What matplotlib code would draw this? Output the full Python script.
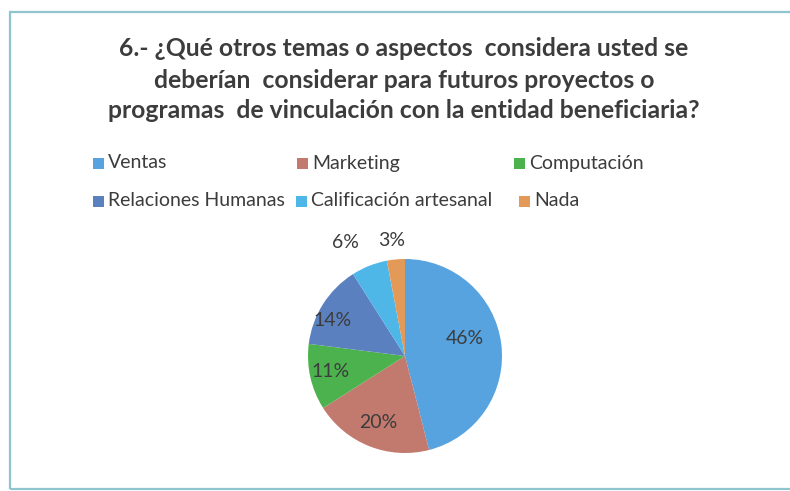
import matplotlib
matplotlib.use("Agg")
import matplotlib.pyplot as plt
from matplotlib.patches import Rectangle
import numpy as np

# Survey answers (share of respondents, %)
categories = ["Ventas", "Marketing", "Computación",
              "Relaciones Humanas", "Calificación artesanal", "Nada"]
shares = [46, 20, 11, 14, 6, 3]
colors = ["#56a3e0", "#c27a6e", "#4cb24e", "#5b80c0", "#4fb6e8", "#e39a58"]

title_lines = [
    "6.- ¿Qué otros temas o aspectos  considera usted se",
    "deberían  considerar para futuros proyectos o",
    "programas  de vinculación con la entidad beneficiaria?",
]

W, H = 790, 491
fig = plt.figure(figsize=(W / 100, H / 100), dpi=100)
fig.patch.set_facecolor("white")

text_color = "#3c3c3c"
font = "Lato"

def fx(px):
    return px / W

def fy(py):
    return 1 - py / H

# chart frame
fig.patches.append(Rectangle((fx(10), fy(489)), fx(800), (489 - 12) / H,
                             transform=fig.transFigure, fill=False,
                             edgecolor="#8fc6ce", linewidth=1.6))

# title
for i, line in enumerate(title_lines):
    fig.text(fx(404), fy(49 + i * 31), line, ha="center", va="center",
             fontsize=17.8, fontweight="bold", color=text_color, family=font)

# legend laid out in two rows
legend_pos = [(93, 163), (297, 163), (514, 163),
              (93, 201), (296, 201), (519, 201)]
for name, col, (lx, ly) in zip(categories, colors, legend_pos):
    fig.patches.append(Rectangle((fx(lx), fy(ly + 5.5)), fx(11), 11 / H,
                                 transform=fig.transFigure, facecolor=col,
                                 edgecolor="none"))
    fig.text(fx(lx + 15), fy(ly), name, ha="left", va="center",
             fontsize=14, color=text_color, family=font)

# pie
cx, cy, r = 405, 356, 97
ax = fig.add_axes([fx(cx - r), fy(cy + r), 2 * r / W, 2 * r / H])
wedges, _ = ax.pie(shares, colors=colors, startangle=90, counterclock=False,
                   wedgeprops=dict(linewidth=0))
ax.set_xlim(-1, 1)
ax.set_ylim(-1, 1)
ax.set_aspect("equal")

label_radius = [0.64, 0.74, 0.78, 0.83, 1.32, 1.20]
label_shift = [9, 0, -1, 6, 6, 1]  # degrees, nudges label along the arc
for w, v, lr, sh in zip(wedges, shares, label_radius, label_shift):
    ang = np.deg2rad((w.theta1 + w.theta2) / 2 + sh)
    ax.text(lr * np.cos(ang), lr * np.sin(ang), f"{v}%", ha="center",
            va="center", fontsize=14, color=text_color, family=font)

fig.savefig("out.png", dpi=100, facecolor="white")
